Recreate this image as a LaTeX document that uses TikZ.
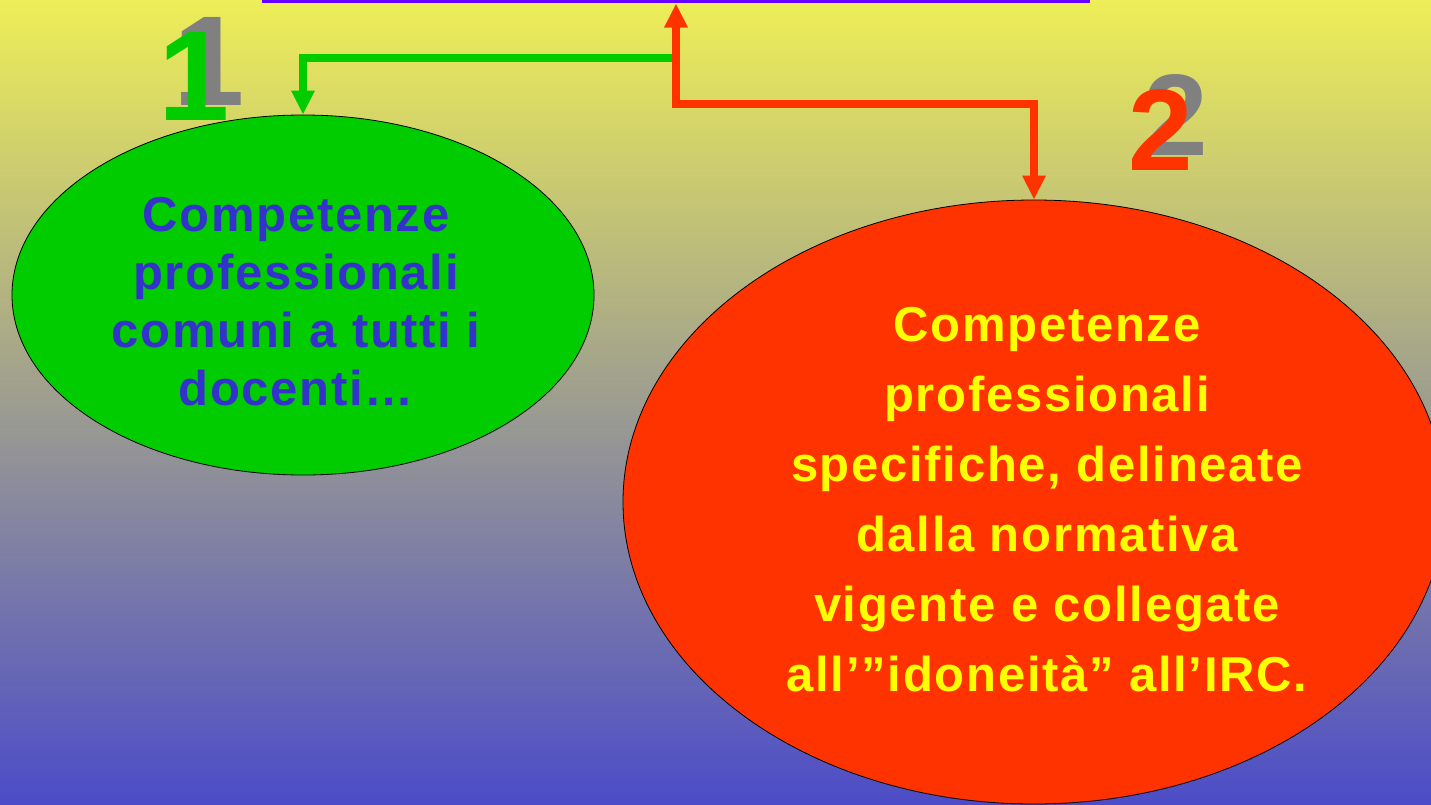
\documentclass[tikz,border=0pt]{standalone}
\usepackage{fontspec}
\setmainfont{Liberation Sans}[LetterSpace=3.5]
\usepackage{tikz}
\usetikzlibrary{arrows.meta,shapes.geometric}

\definecolor{bgtop}{RGB}{238,238,88}
\definecolor{bgmid}{RGB}{162,162,150}
\definecolor{bgbot}{RGB}{76,76,200}
\definecolor{violet}{RGB}{102,0,255}
\definecolor{greenfill}{RGB}{0,204,0}
\definecolor{redfill}{RGB}{255,51,0}
\definecolor{bluetext}{RGB}{51,51,204}
\definecolor{yellowtext}{RGB}{255,255,0}
\definecolor{shadowgray}{RGB}{128,128,128}

\tikzset{
  bubble/.style={ellipse,draw=black,line width=0.8bp,inner sep=0pt},
  bubbletext/.style={align=center,inner sep=0pt,font=\fontsize{49bp}{#1}\selectfont\bfseries},
  link/.style={line width=8bp,-{Triangle[width=22bp,length=24bp]}},
  digit/.style={font=\fontsize{#1}{#1}\selectfont\bfseries\addfontfeature{LetterSpace=0},inner sep=0pt}
}

\begin{document}
\begin{tikzpicture}[x=1bp,y=-1bp]
\clip (0,0) rectangle (1431,804);
\shade[top color=bgtop,middle color=bgmid,bottom color=bgbot] (0,0) rectangle (1431,804);

% box above the slide edge
\node[draw=violet,line width=5bp,minimum width=822bp,minimum height=100bp,inner sep=0pt]
  (head) at (676,-49) {};

% ellipses
\node[bubble,fill=greenfill,minimum width=582bp,minimum height=360bp] (common) at (303,295) {};
\node[bubble,fill=redfill,minimum width=822bp,minimum height=604bp] (specific) at (1034,502) {};
\node[bubbletext=58bp,text=bluetext] (commontext) at ([xshift=-7bp,yshift=-7bp]common.center)
  {Competenze\\professionali\\comuni a tutti i\\docenti\dots};
\node[bubbletext=70bp,text=yellowtext] (specifictext) at ([xshift=13bp,yshift=2bp]specific.center)
  {Competenze\\professionali\\specifiche, delineate\\dalla normativa\\vigente e collegate\\all’”idoneità” all’IRC.};

% numbers
\node[digit=128bp,text=shadowgray] (oneshadow) at (209,61) {1};
\node[digit=128bp,text=greenfill] (one) at (194,76) {1};
\node[digit=116bp,text=shadowgray] (twoshadow) at (1176,115) {2};
\node[digit=116bp,text=redfill] (two) at (1161,130) {2};

% connectors
\coordinate (fork) at (head.south |- 0,58);
\draw[link,greenfill] (fork) -| (common.north);
\draw[link,redfill,{Triangle[width=22bp,length=24bp]}-{Triangle[width=22bp,length=24bp]}]
  (head.south) -- ++(0,100) -| (specific.north);
\end{tikzpicture}
\end{document}
